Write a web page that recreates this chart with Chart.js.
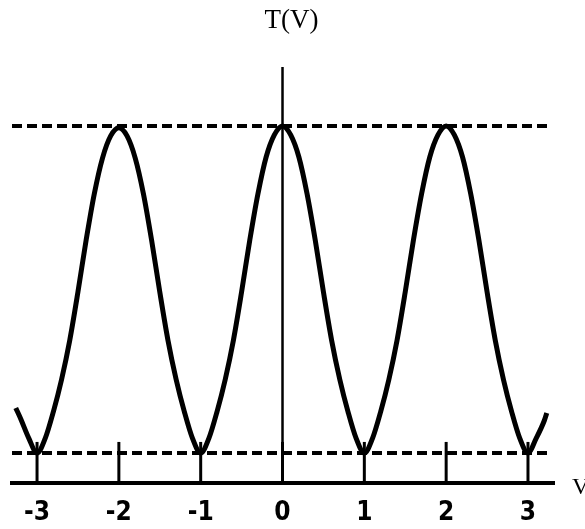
<!DOCTYPE html>
<html>
<head>
<meta charset="utf-8">
<script src="https://cdn.jsdelivr.net/npm/chart.js@4"></script>
<style>
  html, body { margin: 0; padding: 0; background: #fff; overflow: hidden; }
</style>
</head>
<body>
<canvas id="tv-chart" width="585" height="529"></canvas>
<script>
// Voltage values (V) and transmission T(V)
const voltage = [
  -3.26, -3.2, -3.1, -3.0, -2.9, -2.8, -2.7, -2.6, -2.5, -2.4, -2.3, -2.2, -2.1,
  -2.0, -1.9, -1.8, -1.7, -1.6, -1.5, -1.4, -1.3, -1.2, -1.1,
  -1.0, -0.9, -0.8, -0.7, -0.6, -0.5, -0.4, -0.3, -0.2, -0.1,
  0.0, 0.1, 0.2, 0.3, 0.4, 0.5, 0.6, 0.7, 0.8, 0.9,
  1.0, 1.1, 1.2, 1.3, 1.4, 1.5, 1.6, 1.7, 1.8, 1.9,
  2.0, 2.1, 2.2, 2.3, 2.4, 2.5, 2.6, 2.7, 2.8, 2.9,
  3.0, 3.1, 3.2, 3.23
];
const transmission = [
  0.21, 0.18, 0.125, 0.084, 0.125, 0.20, 0.29, 0.40, 0.535, 0.68, 0.81, 0.91, 0.972,
  0.995, 0.972, 0.91, 0.81, 0.68, 0.535, 0.40, 0.29, 0.20, 0.125,
  0.084, 0.125, 0.20, 0.29, 0.40, 0.535, 0.68, 0.81, 0.913, 0.975,
  1.0, 0.975, 0.913, 0.81, 0.68, 0.535, 0.40, 0.29, 0.20, 0.125,
  0.084, 0.125, 0.20, 0.29, 0.40, 0.535, 0.68, 0.81, 0.913, 0.975,
  1.0, 0.975, 0.913, 0.81, 0.68, 0.535, 0.40, 0.29, 0.20, 0.125,
  0.084, 0.125, 0.175, 0.196
];

// dashed reference levels (max and min of T)
const upperLevelX = [-3.306, 3.24];
const upperLevel = [1.0, 1.0];
const lowerLevelX = [-3.306, 3.27];
const lowerLevel = [0.084, 0.084];

// tick positions and labels on the V axis
const tickValues = [-3, -2, -1, 0, 1, 2, 3];
const tickLabels = ['-3', '-2', '-1', '0', '1', '2', '3'];
const tickTop = 0.115;

const toPoints = (xs, ys) => xs.map((x, i) => ({ x: x, y: ys[i] }));

// vertical T axis, small tick marks and the axis names
const axesPlugin = {
  id: 'axesPlugin',
  afterDatasetsDraw(chart) {
    const { ctx, chartArea, scales: { x, y } } = chart;
    ctx.save();
    ctx.strokeStyle = '#000';
    ctx.lineWidth = 2.5;
    const x0 = x.getPixelForValue(0);
    ctx.beginPath();
    ctx.moveTo(x0, chartArea.top);
    ctx.lineTo(x0, chartArea.bottom);
    ctx.stroke();

    ctx.lineWidth = 3;
    tickValues.forEach(v => {
      const px = x.getPixelForValue(v);
      ctx.beginPath();
      ctx.moveTo(px, y.getPixelForValue(0));
      ctx.lineTo(px, y.getPixelForValue(tickTop));
      ctx.stroke();
    });

    ctx.fillStyle = '#000';
    ctx.textBaseline = 'middle';
    ctx.font = '27px "Liberation Serif", serif';
    ctx.textAlign = 'center';
    ctx.fillText('T(V)', x0 + 9, 21);
    ctx.font = '24px "Liberation Serif", serif';
    ctx.textAlign = 'left';
    ctx.fillText('V', 572, 488);
    ctx.restore();
  }
};

const ctx = document.getElementById('tv-chart').getContext('2d');
new Chart(ctx, {
  type: 'line',
  data: {
    datasets: [
      {
        label: 'T(V)',
        data: toPoints(voltage, transmission),
        borderColor: '#000',
        borderWidth: 5,
        pointRadius: 0,
        cubicInterpolationMode: 'monotone',
        fill: false,
      },
      {
        label: 'max',
        data: toPoints(upperLevelX, upperLevel),
        borderColor: '#000',
        borderWidth: 4,
        borderDash: [10, 5],
        pointRadius: 0,
        fill: false,
      },
      {
        label: 'min',
        data: toPoints(lowerLevelX, lowerLevel),
        borderColor: '#000',
        borderWidth: 4,
        borderDash: [10, 5],
        pointRadius: 0,
        fill: false,
      },
    ],
  },
  options: {
    responsive: false,
    animation: false,
    layout: {
      padding: { left: 12, right: 31, top: 67, bottom: 0 },
    },
    plugins: {
      legend: { display: false },
      tooltip: { enabled: false },
    },
    scales: {
      x: {
        type: 'linear',
        min: -3.306,
        max: 3.318,
        afterBuildTicks: scale => {
          scale.ticks = tickValues.map(v => ({ value: v }));
        },
        afterFit: scale => {
          scale.height = 46;
        },
        grid: { display: false, drawTicks: false },
        border: { display: true, color: '#000', width: 4 },
        ticks: {
          color: '#000',
          padding: 15,
          maxRotation: 0,
          autoSkip: false,
          font: { family: '"Liberation Sans Narrow", "DejaVu Sans Condensed", sans-serif', size: 26, weight: 'bold' },
          callback: (value) => tickLabels[tickValues.indexOf(value)],
        },
      },
      y: {
        display: false,
        min: 0,
        max: 1.165,
      },
    },
  },
  plugins: [axesPlugin],
});
</script>
</body>
</html>
